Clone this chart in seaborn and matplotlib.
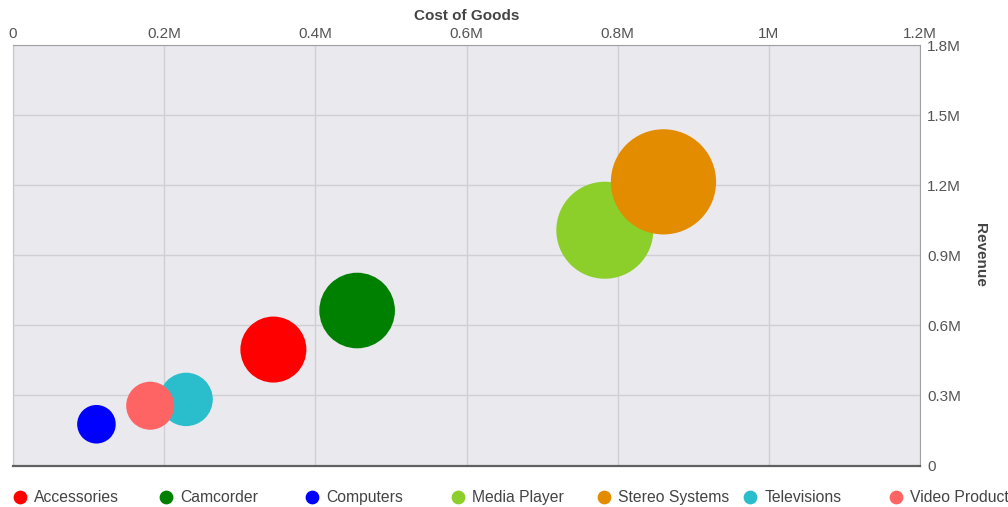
import numpy as np
import pandas as pd
import matplotlib.pyplot as plt
import seaborn as sns
from matplotlib.lines import Line2D
from matplotlib.ticker import FuncFormatter

# Values
categories = ["Accessories", "Camcorder", "Computers", "Media Player",
              "Stereo Systems", "Televisions", "Video Products"]
cost_of_goods = [344500, 455300, 110400, 783000, 860600, 229000, 181500]
revenue = [496300, 663400, 176600, 1007100, 1214200, 282900, 255900]
# third measure that drives bubble area (relative units)
bubble_measure = [1089, 1429, 372, 2352, 2767, 713, 576]
colors = ["#ff0000", "#008000", "#0000ff", "#8cce2a",
          "#e38c00", "#2abdcc", "#ff6464"]

x_ticks = [0, 200000, 400000, 600000, 800000, 1000000, 1200000]
y_ticks = [0, 300000, 600000, 900000, 1200000, 1500000, 1800000]

df = pd.DataFrame({
    "Category": categories,
    "Cost of Goods": cost_of_goods,
    "Revenue": revenue,
    "Bubble": bubble_measure,
})

sns.set_style("whitegrid", {
    "axes.facecolor": "#e9e9ee",
    "grid.color": "#cfcfd4",
    "axes.edgecolor": "#a0a0a0",
})
plt.rcParams["font.family"] = ["Liberation Sans", "DejaVu Sans"]

DPI = 100
fig = plt.figure(figsize=(10.08, 5.07), dpi=DPI)
ax = fig.add_axes([13 / 1008, 1 - 465.5 / 507, (920 - 13) / 1008, (465.5 - 45) / 507])

# area in pt^2 for a radius of r px is (2 r 72/dpi)^2
k = (2 * 72 / DPI) ** 2
sns.scatterplot(
    data=df, x="Cost of Goods", y="Revenue",
    hue="Category", palette=colors, hue_order=categories,
    size="Bubble",
    sizes=(min(bubble_measure) * k, max(bubble_measure) * k),
    size_norm=(min(bubble_measure), max(bubble_measure)),
    linewidth=0, alpha=1, legend=False, ax=ax, zorder=3,
)

ax.set_xlim(x_ticks[0], x_ticks[-1])
ax.set_ylim(y_ticks[0], y_ticks[-1])
ax.set_xticks(x_ticks)
ax.set_yticks(y_ticks)


def fmt_m(v, pos):
    if v == 0:
        return "0"
    return f"{v / 1e6:g}M"


ax.xaxis.set_major_formatter(FuncFormatter(fmt_m))
ax.yaxis.set_major_formatter(FuncFormatter(fmt_m))

ax.xaxis.tick_top()
ax.xaxis.set_label_position("top")
ax.yaxis.tick_right()
ax.yaxis.set_label_position("right")
ax.tick_params(axis="x", length=0, pad=3, labelsize=11, labelcolor="#555555")
ax.tick_params(axis="y", length=0, pad=5, labelsize=11, labelcolor="#555555")

ax.set_xlabel("Cost of Goods", fontsize=11, fontweight="bold", color="#444444", labelpad=5)
ax.set_ylabel("Revenue", fontsize=11, fontweight="bold", color="#444444",
              rotation=270, labelpad=9, va="bottom")

ax.grid(True, color="#cfcfd4", linewidth=1)
ax.spines["bottom"].set_color("#606060")
ax.spines["bottom"].set_linewidth(1.6)
ax.spines["left"].set_color("#c8c8c8")
ax.spines["top"].set_color("#a0a0a0")
ax.spines["right"].set_color("#a0a0a0")
for s in ax.spines.values():
    s.set_zorder(4)

# legend row at the bottom: fixed spacing per entry
for i, (cat, col) in enumerate(zip(categories, colors)):
    h = Line2D([], [], marker="o", linestyle="", color=col, markersize=8.9)
    fig.legend(
        handles=[h], labels=[cat], loc="center left",
        bbox_to_anchor=((14 + i * 146) / 1008, 1 - 497.5 / 507),
        frameon=False, fontsize=11.3, handlelength=0.8, handletextpad=0.5,
        borderpad=0, borderaxespad=0, labelcolor="#444444",
    )

fig.savefig("out.png", dpi=DPI)
